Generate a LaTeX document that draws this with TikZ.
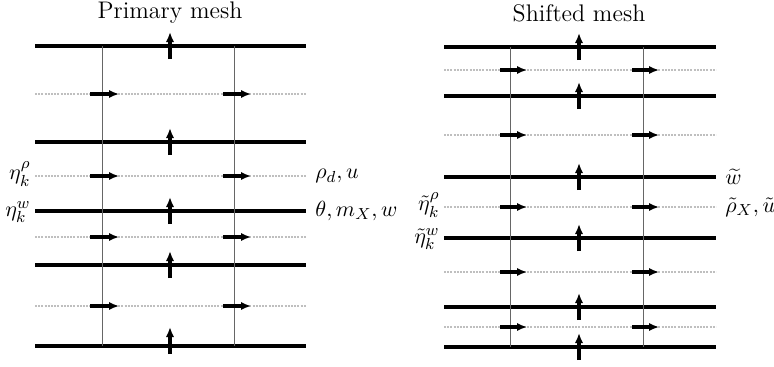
\documentclass[tikz,border=0pt]{standalone}
\usetikzlibrary{arrows.meta}
\begin{document}
\begin{tikzpicture}[x=0.5pt,y=-0.5pt,font=\fontsize{11}{13}\selectfont,
    level/.style={line width=1.7pt},
    half/.style={gray!50, line width=1.2pt, dash pattern=on 1pt off 0.6pt},
    wall/.style={black!60, line width=0.45pt},
    vel/.style={line width=1.6pt, -{Latex[length=5pt,width=4.2pt]}},
    title/.style={font=\fontsize{12}{14}\selectfont}]
    \useasboundingbox (0,0) rectangle (774,366);

    % Titles
    \node[title] (ptitle) at (170,13) {Primary mesh};
    \node[title] (stitle) at (579,13) {Shifted mesh};

    % Primary mesh: levels and half levels
    \foreach \y in {94,176,237,306}
        \draw[half] (35,\y) -- (306,\y);
    \foreach \y in {46,142,211,265,346}
        \draw[level] (35,\y) -- (306,\y);
    \draw[wall] (102,46) -- (102,346);
    \draw[wall] (234,46) -- (234,346);

    % Primary mesh: velocities
    \foreach \y in {94,176,237,306} {
        \draw[vel] (90,\y) -- (119,\y);
        \draw[vel] (223,\y) -- (251,\y);
    }
    \foreach \y in {46,142,211,265}
        \draw[vel] (170,\y+13) -- (170,\y-14);
    \draw[vel] (170,354) -- (170,327);

    % Primary mesh: labels
    \node[anchor=east, inner sep=1pt] (etar) at (33,174) {$\eta_k^\rho$};
    \node[anchor=east, inner sep=1pt] (etaw) at (33,212) {$\eta_k^w$};
    \node[anchor=west, inner sep=1pt] (rhou) at (313,176) {$\rho_d, u$};
    \node[anchor=west, inner sep=1pt] (thw) at (313,211) {$\theta, m_X, w$};

    % Shifted mesh: levels and half levels
    \foreach \y in {70,135,207,272,327}
        \draw[half] (444,\y) -- (716,\y);
    \foreach \y in {47,96,177,238,307,347}
        \draw[level] (444,\y) -- (716,\y);
    \draw[wall] (510,47) -- (510,347);
    \draw[wall] (643,47) -- (643,347);

    % Shifted mesh: velocities
    \foreach \y in {70,135,207,272,327} {
        \draw[vel] (500,\y) -- (527,\y);
        \draw[vel] (632,\y) -- (659,\y);
    }
    \foreach \y in {47,96,177,238,307,347}
        \draw[vel] (579,\y+13) -- (579,\y-14);

    % Shifted mesh: labels
    \node[anchor=east, inner sep=1pt] (setar) at (442,205) {$\tilde\eta_k^\rho$};
    \node[anchor=east, inner sep=1pt] (setaw) at (442,239) {$\tilde\eta_k^w$};
    \node[anchor=west, inner sep=1pt] (sw) at (723,177) {$\widetilde{w}$};
    \node[anchor=west, inner sep=1pt] (srhou) at (723,207) {$\tilde\rho_X, \tilde u$};
\end{tikzpicture}
\end{document}
